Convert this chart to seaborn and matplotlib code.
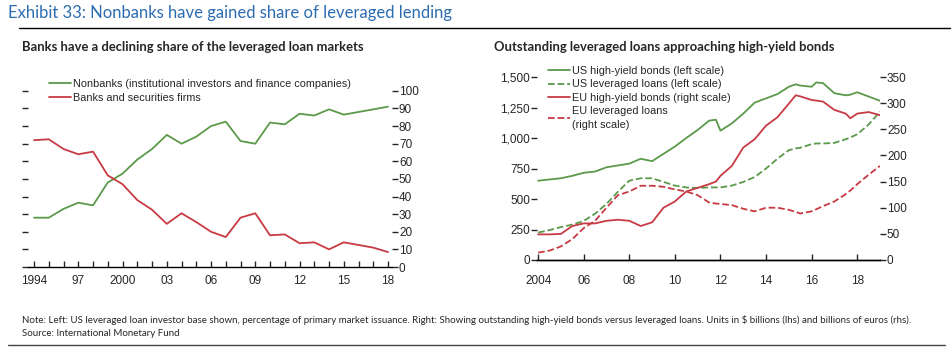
import numpy as np
import pandas as pd
import matplotlib
matplotlib.use("Agg")
import matplotlib.pyplot as plt
from matplotlib.lines import Line2D
import seaborn as sns

# left panel: share of primary market issuance (%)
years = list(range(1994, 2019))
nonbanks = [28, 28, 33, 36.5, 35, 48, 53, 61, 67, 75, 70, 74, 80, 82.5,
            71.5, 70, 82, 81, 87, 86, 89.5, 86.5, 88, 89.5, 91]
banks = [72, 72.5, 67, 64, 65.5, 52, 47, 38, 32.5, 24.5, 30.5, 25.5, 20, 17,
         28, 30.5, 18, 18.5, 13.5, 14, 10, 14, 12.5, 11, 8.5]

# right panel: outstanding amounts (half-yearly reads)
dates = [2004.0, 2004.5, 2005.0, 2005.5, 2006.0, 2006.5, 2007.0, 2007.5, 2008.0,
         2008.5, 2009.0, 2009.5, 2010.0, 2010.5, 2011.0, 2011.5, 2011.8, 2012.0,
         2012.5, 2013.0, 2013.5, 2014.0, 2014.5, 2015.0, 2015.3, 2015.5, 2016.0,
         2016.2, 2016.5, 2017.0, 2017.5, 2017.7, 2018.0, 2018.5, 2019.0]
us_hy = [650, 660, 670, 690, 715, 725, 760, 775, 790, 830, 810, 870, 930,
         1000, 1066, 1142, 1150, 1060, 1120, 1200, 1290, 1325, 1360, 1420,
         1440, 1430, 1420, 1455, 1450, 1367, 1350, 1355, 1375, 1340, 1305]
us_lev = [225, 245, 270, 290, 320, 380, 460, 560, 650, 670, 670, 640, 610,
          595, 590, 595, 595, 595, 610, 640, 680, 750, 830, 900, 915, 920,
          950, 955, 955, 960, 990, 1005, 1030, 1110, 1215]
eu_hy = [49, 49, 50, 65, 70, 70, 75, 77, 75, 65, 72, 100, 112, 131, 138,
         145, 150, 161, 180, 215, 231, 257, 273, 299, 315, 313, 306, 305, 303,
         287, 280, 271, 280, 283, 277]
eu_lev = [14, 18, 26, 40, 61, 75, 100, 124, 131, 142, 142, 140, 135, 131,
          124, 110, 108, 107, 105, 98, 93, 100, 100, 96, 92, 89, 93, 97, 103,
          112, 126, 133, 145, 163, 180]

green = "#5b9a4a"
red = "#c83a44"

sns.set_theme(style="white")
plt.rcParams["font.family"] = ["Liberation Sans", "DejaVu Sans"]

fig = plt.figure(figsize=(9.53, 3.57), dpi=100)

# header / footer
fig.text(8 / 953, 1 - 13 / 357, "Exhibit 33: Nonbanks have gained share of leveraged lending",
         fontsize=12.0, color="#2c6cb0", family="Lato", va="center")
fig.add_artist(Line2D([19 / 953, 950 / 953], [1 - 28 / 357] * 2, color="black", lw=1))
fig.text(22 / 953, 1 - 47 / 357, "Banks have a declining share of the leveraged loan markets",
         fontsize=9.4, weight="bold", family="Lato", va="center")
fig.text(494 / 953, 1 - 47 / 357, "Outstanding leveraged loans approaching high-yield bonds",
         fontsize=9.4, weight="bold", family="Lato", va="center")
fig.text(22 / 953, 1 - 320 / 357,
         "Note: Left: US leveraged loan investor base shown, percentage of primary market issuance. "
         "Right: Showing outstanding high-yield bonds versus leveraged loans. Units in $ billions (lhs) "
         "and billions of euros (rhs).",
         fontsize=7.0, family="Lato", va="center")
fig.text(22 / 953, 1 - 333 / 357, "Source: International Monetary Fund",
         fontsize=7.0, family="Lato", va="center")
fig.add_artist(Line2D([8 / 953, 945 / 953], [1 - 345 / 357] * 2, color="#444444", lw=1))

# ---- left panel
ax1 = fig.add_axes([28 / 953, 1 - 267 / 357, 364 / 953, 192 / 357])
df1 = pd.DataFrame({"year": years, "nonbanks": nonbanks, "banks": banks})
sns.lineplot(data=df1, x="year", y="nonbanks", color=green, lw=1.3, ax=ax1,
             label="Nonbanks (institutional investors and finance companies)")
sns.lineplot(data=df1, x="year", y="banks", color=red, lw=1.3, ax=ax1,
             label="Banks and securities firms")
ax1.set_xlim(1993.59, 2018.27)
ax1.set_ylim(0, 109)
ax1.set_xlabel("")
ax1.set_ylabel("")
for s in ["left", "right", "top"]:
    ax1.spines[s].set_visible(False)
ax1.spines["bottom"].set_color("black")
ax1.spines["bottom"].set_linewidth(1)
ax1.set_xticks(years)
ax1.set_xticklabels([(str(y) if y in (1994, 2000) else f"{y % 100:02d}") if (y - 1994) % 3 == 0 else ""
                     for y in years])
ax1.tick_params(axis="x", direction="in", length=4, width=1, bottom=True, labelsize=8.5, pad=6)
ax1.set_yticks(range(0, 101, 10))
ax1.set_yticklabels([str(v) for v in range(0, 101, 10)])
ax1.tick_params(axis="y", direction="out", length=4, width=1, left=True, right=True,
                labelleft=False, labelright=True, labelsize=8.5, pad=1)
ax1.legend(loc="upper left", bbox_to_anchor=(0.046, 1.003), frameon=False, fontsize=7.8,
           handlelength=2.0, handletextpad=0.2, labelspacing=0.35, borderaxespad=0)

# ---- right panel
ax2 = fig.add_axes([537 / 953, 1 - 260 / 357, 343 / 953, 198 / 357])
ax3 = ax2.twinx()
df2 = pd.DataFrame({"date": dates, "us_hy": us_hy, "us_lev": us_lev,
                    "eu_hy": eu_hy, "eu_lev": eu_lev})
sns.lineplot(data=df2, x="date", y="us_hy", color=green, lw=1.3, ax=ax2)
sns.lineplot(data=df2, x="date", y="us_lev", color=green, lw=1.3, ls="--", ax=ax2)
sns.lineplot(data=df2, x="date", y="eu_hy", color=red, lw=1.3, ax=ax3)
sns.lineplot(data=df2, x="date", y="eu_lev", color=red, lw=1.3, ls="--", ax=ax3)
ytop = 1623
ax2.set_ylim(0, ytop)
ax3.set_ylim(0, ytop * 350 / 1500)
ax2.set_xlim(2003.95, 2019.0)
for a in (ax2, ax3):
    a.set_xlabel("")
    a.set_ylabel("")
    for s in ["left", "right", "top"]:
        a.spines[s].set_visible(False)
    a.spines["bottom"].set_color("black")
    a.spines["bottom"].set_linewidth(1)
ax2.set_xticks(range(2004, 2019, 2))
ax2.set_xticklabels(["2004"] + [f"{y % 100:02d}" for y in range(2006, 2019, 2)])
ax2.tick_params(axis="x", direction="in", length=4, width=1, bottom=True, labelsize=8.5, pad=11)
ax2.set_yticks(range(0, 1501, 250))
ax2.set_yticklabels([f"{v:,}" for v in range(0, 1501, 250)])
ax2.tick_params(axis="y", direction="out", length=4, width=1, left=True, labelsize=8.5, pad=1)
ax3.set_yticks(range(0, 351, 50))
ax3.tick_params(axis="y", direction="out", length=4, width=1, right=True, labelsize=8.5, pad=1)

handles = [Line2D([], [], color=green, lw=1.3),
           Line2D([], [], color=green, lw=1.3, ls="--"),
           Line2D([], [], color=red, lw=1.3),
           Line2D([], [], color=red, lw=1.3, ls="--")]
labels = ["US high-yield bonds (left scale)", "US leveraged loans (left scale)",
          "EU high-yield bonds (right scale)", "EU leveraged loans\n(right scale)"]
leg = ax3.legend(handles, labels, loc="upper left", bbox_to_anchor=(0.0195, 1.003), frameon=False,
                 fontsize=7.8, handlelength=2.0, handletextpad=0.2, labelspacing=0.33,
                 borderaxespad=0)
for t in leg.get_texts():
    t.set_linespacing(1.45)

fig.savefig("out.png", dpi=100)
